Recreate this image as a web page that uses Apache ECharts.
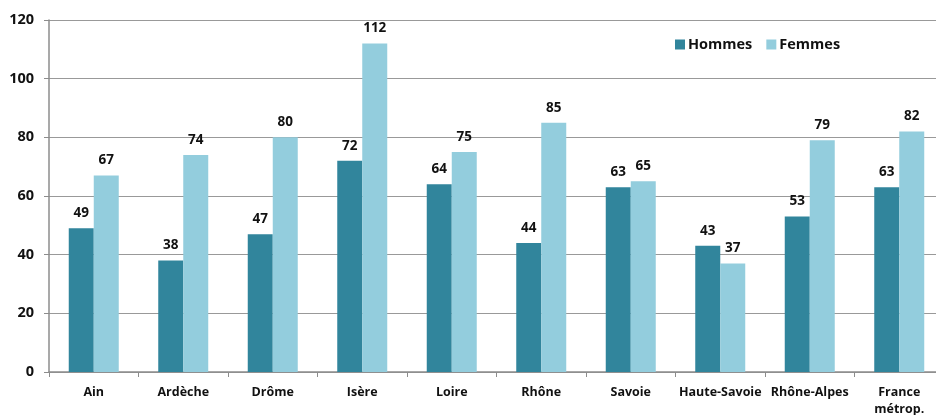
<!DOCTYPE html>
<html>
<head>
<meta charset="utf-8">
<script src="https://cdn.jsdelivr.net/npm/echarts@6/dist/echarts.min.js"></script>
<style>
  html, body { margin: 0; padding: 0; background: #fff; }
  #chart { width: 936px; height: 415px; }
</style>
</head>
<body>
<div id="chart"></div>
<script>
// Départements, région and national reference
const categories = ['Ain', 'Ardèche', 'Drôme', 'Isère', 'Loire', 'Rhône', 'Savoie', 'Haute-Savoie', 'Rhône-Alpes', 'France\nmétrop.'];
const hommes = [49, 38, 47, 72, 64, 44, 63, 43, 53, 63];
const femmes = [67, 74, 80, 112, 75, 85, 65, 37, 79, 82];
const yTicks = { min: 0, max: 120, interval: 20 };

const font = '"Open Sans", "DejaVu Sans", sans-serif';
const chart = echarts.init(document.getElementById('chart'));

const labelStyle = {
  show: true,
  position: 'top',
  distance: 8,
  fontFamily: font,
  fontWeight: 'bold',
  fontSize: 13.5,
  color: '#111'
};

chart.setOption({
  animation: false,
  grid: {
    left: 49, right: -8, top: 20, bottom: 43,
    containLabel: false,
    outerBoundsMode: 'none'
  },
  legend: {
    top: 32,
    left: 670,
    itemWidth: 10,
    itemHeight: 10,
    itemGap: 14,
    icon: 'rect',
    textStyle: { fontFamily: font, fontWeight: 'bold', fontSize: 14.5, color: '#111', padding: [0, 0, 0, -2] },
    data: ['Hommes', 'Femmes']
  },
  xAxis: {
    type: 'category',
    data: categories,
    axisLine: { lineStyle: { color: '#8c8c8c', width: 1.5 } },
    axisTick: { show: true, length: 5, lineStyle: { color: '#8c8c8c' } },
    axisLabel: {
      fontFamily: font,
      fontWeight: 'bold',
      fontSize: 12.5,
      color: '#111',
      margin: 12,
      lineHeight: 17,
      interval: 0
    }
  },
  yAxis: {
    type: 'value',
    min: yTicks.min,
    max: yTicks.max,
    interval: yTicks.interval,
    axisLine: { show: true, lineStyle: { color: '#8c8c8c', width: 1.5 } },
    axisTick: { show: true, length: 5, lineStyle: { color: '#8c8c8c' } },
    splitLine: { lineStyle: { color: '#999', width: 1 } },
    axisLabel: {
      fontFamily: font,
      fontWeight: 'bold',
      fontSize: 14.5,
      color: '#111',
      margin: 15
    }
  },
  series: [
    {
      name: 'Hommes',
      type: 'bar',
      data: hommes,
      barWidth: 25,
      barGap: '0%',
      itemStyle: { color: '#31859c' },
      label: labelStyle
    },
    {
      name: 'Femmes',
      type: 'bar',
      data: femmes,
      barWidth: 25,
      itemStyle: { color: '#93cddd' },
      label: labelStyle
    }
  ]
});
</script>
</body>
</html>
